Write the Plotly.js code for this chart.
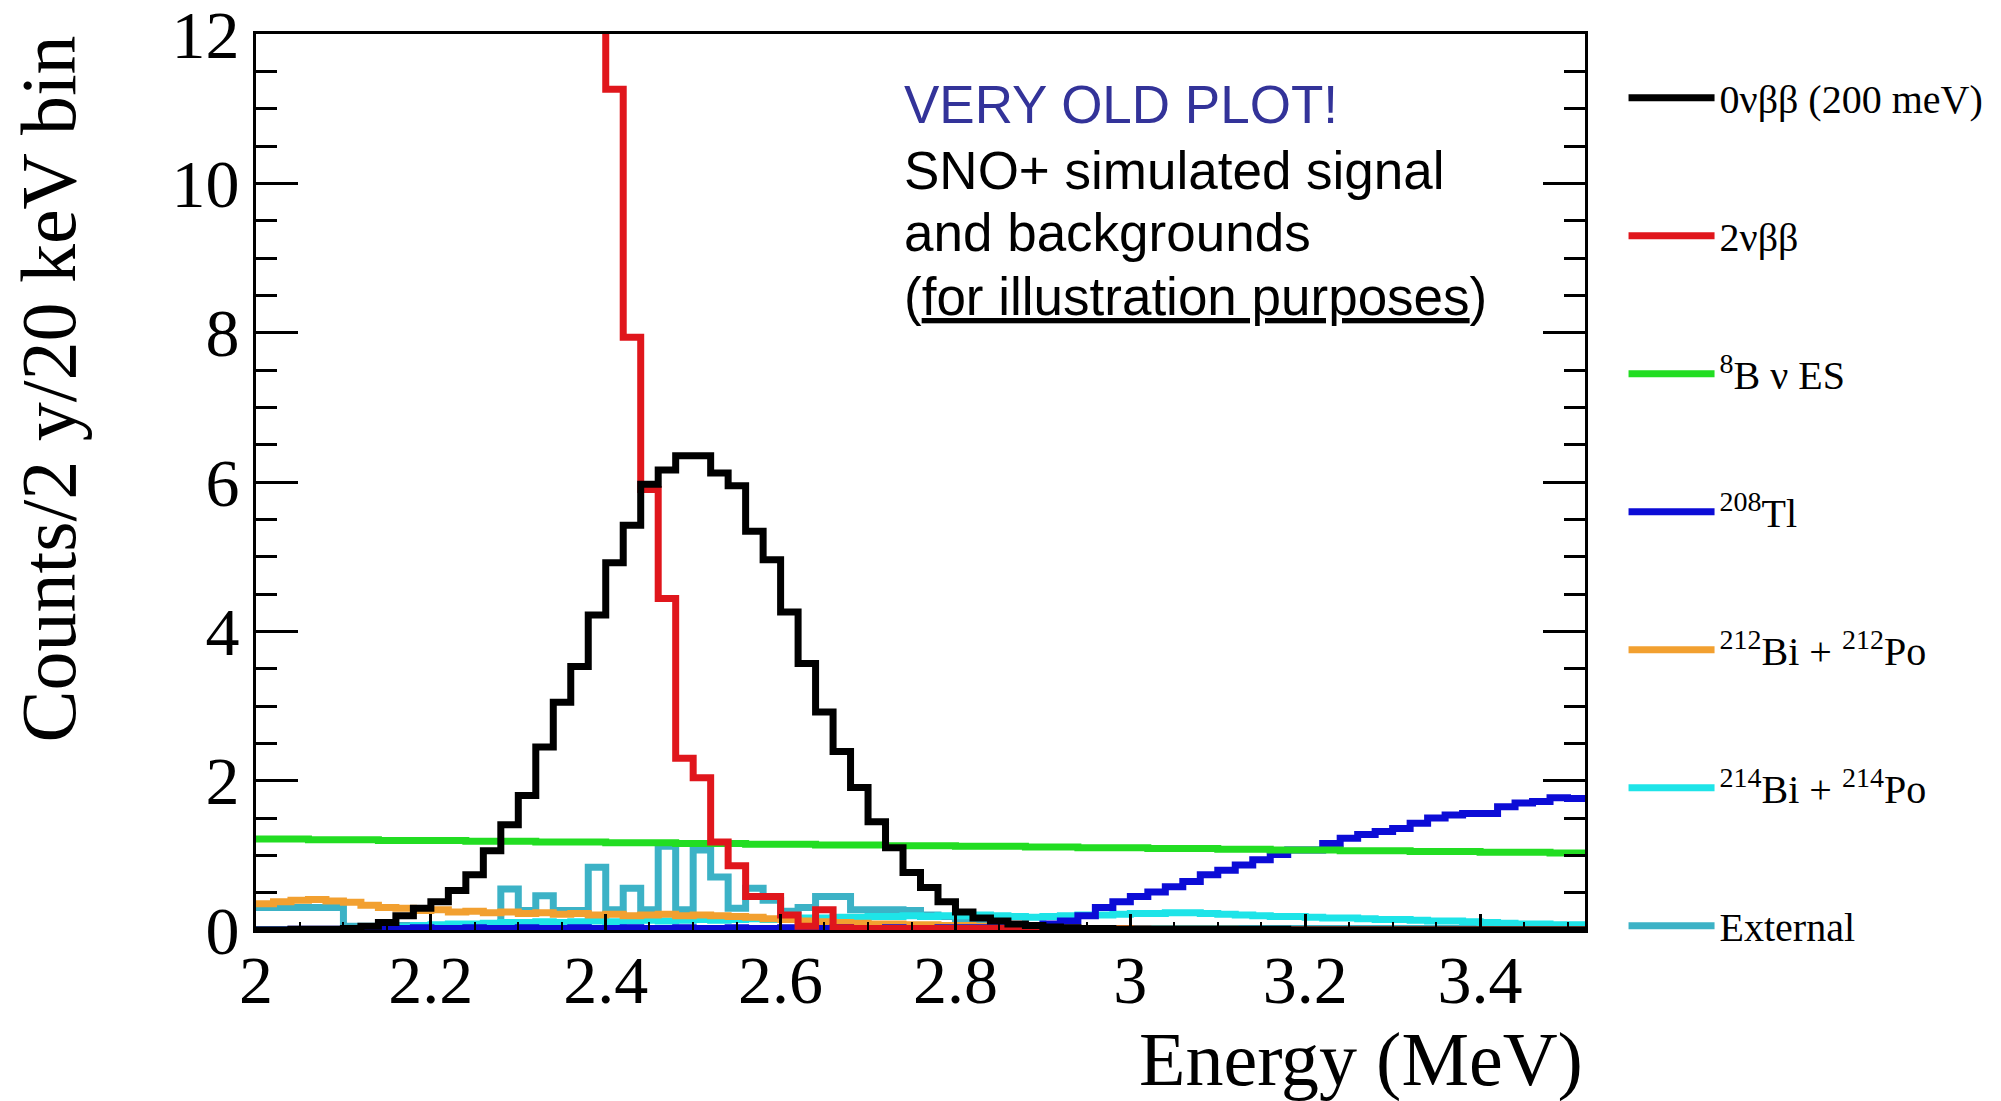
<!DOCTYPE html>
<html>
<head>
<meta charset="utf-8">
<script src="https://cdn.plot.ly/plotly-3.0.1.min.js"></script>
<style>html,body{margin:0;padding:0;background:#fff;}#chart{width:2001px;height:1101px;}</style>
</head>
<body>
<div id="chart"></div>
<script>
// Binning: 20 keV bins starting at 2.00 MeV
const binStart = 2.00;
const binWidth = 0.02;
const nBins = 76;

// Series values (counts / 2 y / 20 keV bin), one per bin from 2.00 MeV
const zeroNuBB = [0.00,0.00,0.01,0.01,0.01,0.02,0.05,0.10,0.19,0.29,
  0.38,0.53,0.74,1.06,1.41,1.80,2.45,3.05,3.53,4.22,
  4.92,5.42,5.97,6.16,6.35,6.35,6.12,5.95,5.34,4.96,
  4.26,3.57,2.92,2.39,1.91,1.45,1.10,0.77,0.57,0.38,
  0.24,0.16,0.12,0.08,0.06,0.04,0.03,0.02,0.02,0.01,
  0.01,0.01,0.01,0.01,0.01,0.01,0.01,0.01,0.01,0.00,
  0.00,0.00,0.00,0.00,0.00,0.00,0.00,0.00,0.00,0.00,
  0.00,0.00,0.00,0.00,0.00,0.00];

// 2vbb starts at bin index 18 (2.36 MeV); first bins are off scale
const twoNuStartIndex = 18;
const twoNuBB = [17.8,14.6,11.26,7.94,5.90,4.44,2.30,2.04,1.18,0.86,
  0.45,0.45,0.20,0.05,0.27,0.03,0.02,0.02,0.02,0.02,
  0.02,0.02,0.02,0.02,0.02,0.02,0.02,0.02,0.02,0.02,
  0.01,0.01,0.01,0.00,0.00,0.00,0.00,0.00,0.00,0.00,
  0.00,0.00,0.00,0.00,0.00,0.00,0.00,0.00,0.00,0.00,
  0.00,0.00,0.00,0.00,0.00,0.00,0.00,0.00];

const b8Solar = [1.22,1.22,1.22,1.21,1.21,1.21,1.21,1.20,1.20,1.20,
  1.20,1.20,1.19,1.19,1.19,1.19,1.18,1.18,1.18,1.18,
  1.17,1.17,1.17,1.17,1.16,1.16,1.16,1.16,1.15,1.15,
  1.15,1.15,1.14,1.14,1.14,1.14,1.13,1.13,1.13,1.13,
  1.12,1.12,1.12,1.12,1.11,1.11,1.11,1.10,1.10,1.10,
  1.10,1.09,1.09,1.09,1.09,1.08,1.08,1.08,1.07,1.07,
  1.07,1.07,1.06,1.06,1.06,1.06,1.05,1.05,1.05,1.05,
  1.04,1.04,1.04,1.04,1.03,1.03];

const tl208 = [0.00,0.00,0.01,0.01,0.01,0.01,0.02,
  0.02,0.02,0.03,0.02,0.02,0.03,0.02,0.02,0.03,0.02,
  0.02,0.03,0.02,0.02,0.03,0.02,0.02,0.03,0.02,0.02,
  0.03,0.02,0.02,0.03,0.02,0.02,0.03,0.02,0.02,0.03,
  0.02,0.02,0.03,0.03,
  0.03,0.03,0.04,0.06,0.08,0.12,0.19,
  0.30,0.38,0.45,0.51,0.58,0.65,0.74,0.80,0.87,0.94,
  1.01,1.07,1.07,1.16,1.23,1.28,1.32,1.36,1.43,1.50,
  1.54,1.56,1.56,1.65,1.70,1.72,1.77,1.76];

const bi212po212 = [0.35,0.38,0.40,0.41,0.39,0.37,0.33,0.30,0.29,0.26,
  0.27,0.24,0.25,0.23,0.24,0.22,0.23,0.21,0.22,0.20,
  0.21,0.19,0.20,0.21,0.19,0.20,0.19,0.18,0.17,0.15,
  0.14,0.12,0.11,0.10,0.09,0.08,0.08,0.07,0.07,0.06,
  0.06,0.05,0.05,0.04,0.04,0.03,0.03,0.02,0.02,0.02,
  0.01,0.01,0.01,0.01,0.01,0.01,0.00,0.00,0.00,0.00,
  0.00,0.00,0.00,0.00,0.00,0.00,0.00,0.00,0.00,0.00,
  0.00,0.00,0.00,0.00,0.00,0.00];

const bi214po214 = [0.00,0.00,0.00,0.00,0.00,0.00,0.01,0.02,0.04,0.06,
  0.07,0.08,0.08,0.09,0.10,0.10,0.11,0.10,0.11,0.12,
  0.11,0.12,0.13,0.12,0.13,0.14,0.13,0.14,0.15,0.14,
  0.15,0.16,0.16,0.17,0.17,0.18,0.18,0.19,0.18,0.19,
  0.19,0.20,0.19,0.18,0.17,0.18,0.19,0.20,0.20,0.21,
  0.22,0.22,0.23,0.23,0.22,0.21,0.20,0.19,0.18,0.18,
  0.17,0.16,0.16,0.15,0.14,0.14,0.13,0.12,0.12,0.11,
  0.10,0.09,0.08,0.08,0.07,0.07];

const external = [0.30,0.30,0.30,0.30,0.30,0.05,0.05,0.05,0.06,0.06,
  0.06,0.07,0.07,0.08,0.55,0.26,0.46,0.26,0.26,0.84,
  0.27,0.56,0.27,1.12,0.27,1.07,0.71,0.29,0.56,0.40,
  0.25,0.30,0.45,0.45,0.27,0.27,0.27,0.26,0.20,0.18,
  0.12,0.08,0.05,0.04,0.03,0.02,0.02,0.02,0.02,0.02,
  0.02,0.02,0.02,0.02,0.02,0.02,0.02,0.02,0.02,0.02,
  0.02,0.02,0.02,0.02,0.02,0.02,0.02,0.02,0.02,0.02,
  0.02,0.02,0.02,0.02,0.02,0.02];

// Legend labels and colours
const seriesNames = [
  '0νββ (200 meV)',
  '2νββ',
  '<sup>8</sup>B ν ES',
  '<sup>208</sup>Tl',
  '<sup>212</sup>Bi + <sup>212</sup>Po',
  '<sup>214</sup>Bi + <sup>214</sup>Po',
  'External'
];
const seriesColors = ['#000000','#e0161c','#22dd22','#0c0cd6','#f2a030','#1ee4e8','#3cb2c6'];

// Tick labels
const xTickVals = [2, 2.2, 2.4, 2.6, 2.8, 3, 3.2, 3.4];
const xTickText = ['2','2.2','2.4','2.6','2.8','3','3.2','3.4'];
const yTickVals = [0, 2, 4, 6, 8, 10, 12];
const yTickText = ['0','2','4','6','8','10','12'];

// Bin edges from the binning definition
const edges = [];
for (let i = 0; i <= nBins; i++) edges.push(+(binStart + i * binWidth).toFixed(2));

function histTrace(values, startIndex, idx) {
  const x = edges.slice(startIndex, startIndex + values.length + 1);
  const y = values.concat([values[values.length - 1]]);
  return {
    type: 'scatter', mode: 'lines', x: x, y: y,
    line: {shape: 'hv', color: seriesColors[idx], width: 7},
    name: seriesNames[idx], legendgroup: 'g' + idx, legendrank: idx + 1,
    hoverinfo: 'skip'
  };
}

// Drawing order (bottom to top)
const traces = [
  histTrace(external, 0, 6),
  histTrace(bi214po214, 0, 5),
  histTrace(bi212po212, 0, 4),
  histTrace(tl208, 0, 3),
  histTrace(b8Solar, 0, 2),
  histTrace(twoNuBB, twoNuStartIndex, 1),
  histTrace(zeroNuBB, 0, 0)
];

const serif = 'Liberation Serif, Times New Roman, serif';
const sans = 'Liberation Sans, Arial, sans-serif';

const layout = {
  width: 2001, height: 1101,
  margin: {l: 256, r: 414, t: 34, b: 171, pad: 0},
  paper_bgcolor: '#ffffff', plot_bgcolor: '#ffffff',
  showlegend: true,
  legend: {
    x: 1.029, xanchor: 'left', y: 0.965, yanchor: 'top',
    font: {family: serif, size: 40, color: '#000'},
    tracegroupgap: 83, itemwidth: 86, bgcolor: 'rgba(0,0,0,0)',
    traceorder: 'grouped'
  },
  xaxis: {
    range: [2, 3.52], showgrid: false, zeroline: false,
    tickmode: 'array', tickvals: xTickVals, ticktext: xTickText,
    ticks: 'inside', ticklen: 16, tickwidth: 3, tickcolor: '#000',
    minor: {dtick: 0.05, tick0: 2, ticks: 'inside', ticklen: 8, tickwidth: 2, tickcolor: '#000', showgrid: false},
    showline: true, linewidth: 3, linecolor: '#000', mirror: true,
    tickfont: {family: serif, size: 68, color: '#000'},
    ticklabelstandoff: -12, ticklabeloverflow: 'allow'
  },
  yaxis: {
    range: [0, 12], showgrid: false, zeroline: false,
    tickmode: 'array', tickvals: yTickVals, ticktext: yTickText,
    ticks: 'inside', ticklen: 42, tickwidth: 3, tickcolor: '#000',
    minor: {dtick: 0.5, tick0: 0, ticks: 'inside', ticklen: 21, tickwidth: 3, tickcolor: '#000', showgrid: false},
    showline: true, linewidth: 3, linecolor: '#000', mirror: 'allticks',
    tickfont: {family: serif, size: 68, color: '#000'},
    ticklabelstandoff: 0, ticklabeloverflow: 'allow'
  },
  annotations: [
    {text: 'Counts/2 y/20 keV bin', xref: 'paper', yref: 'paper', x: -0.156, y: 0.604,
     xanchor: 'center', yanchor: 'middle', textangle: -90, showarrow: false,
     font: {family: serif, size: 78, color: '#000'}},
    {text: 'Energy (MeV)', xref: 'paper', yref: 'paper', x: 1.0, y: -0.144,
     xanchor: 'right', yanchor: 'middle', showarrow: false,
     font: {family: serif, size: 76, color: '#000'}},
    {text: 'VERY OLD PLOT!', xref: 'paper', yref: 'paper', x: 0.486, y: 0.9208,
     xanchor: 'left', yanchor: 'middle', showarrow: false,
     font: {family: sans, size: 53, color: '#333399'}},
    {text: 'SNO+ simulated signal', xref: 'paper', yref: 'paper', x: 0.486, y: 0.848,
     xanchor: 'left', yanchor: 'middle', showarrow: false,
     font: {family: sans, size: 53, color: '#000'}},
    {text: 'and backgrounds', xref: 'paper', yref: 'paper', x: 0.486, y: 0.778,
     xanchor: 'left', yanchor: 'middle', showarrow: false,
     font: {family: sans, size: 53, color: '#000'}},
    {text: '(<u>for illustration purposes</u>)', xref: 'paper', yref: 'paper', x: 0.486, y: 0.7065,
     xanchor: 'left', yanchor: 'middle', showarrow: false,
     font: {family: sans, size: 53, color: '#000'}}
  ]
};

Plotly.newPlot('chart', traces, layout, {displayModeBar: false, staticPlot: true});
</script>
</body>
</html>
